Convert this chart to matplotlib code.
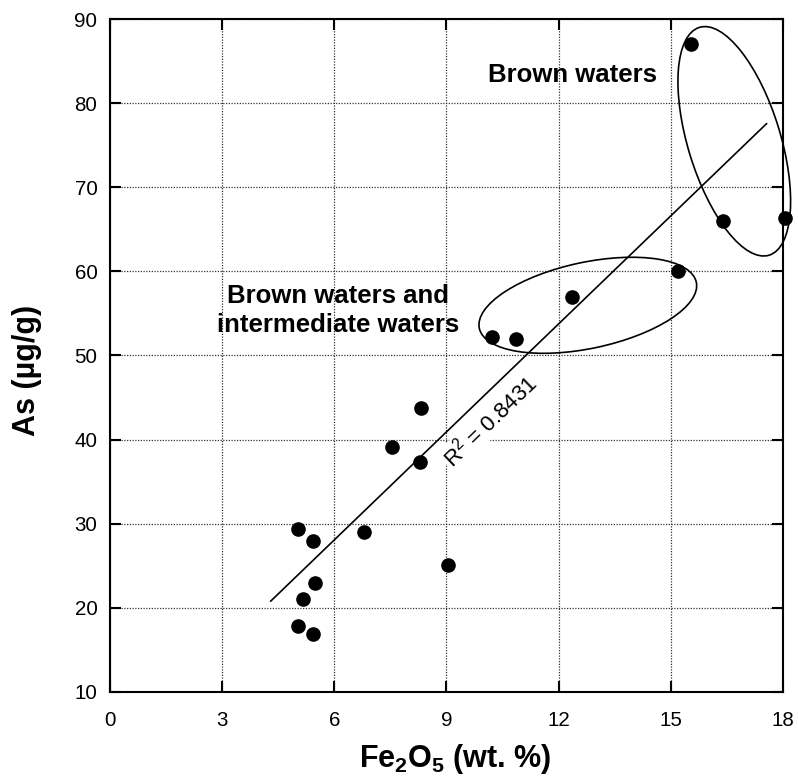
import numpy as np
import matplotlib.pyplot as plt
from matplotlib.patches import Ellipse

plt.rcParams['font.family'] = ['Liberation Sans', 'DejaVu Sans']
plt.rcParams['mathtext.fontset'] = 'custom'
plt.rcParams['mathtext.rm'] = 'Liberation Sans'
plt.rcParams['mathtext.bf'] = 'Liberation Sans:bold'
plt.rcParams['mathtext.default'] = 'regular'

# Fe2O5 (wt. %) and As (ug/g)
fe2o5 = [5.03, 5.44, 5.48, 5.17, 5.02, 5.44, 6.80, 7.53, 8.33, 8.29, 9.05,
         10.22, 10.87, 12.36, 15.2, 15.55, 16.40, 18.05]
arsen = [29.4, 27.9, 23.0, 21.0, 17.9, 16.9, 29.0, 39.1, 43.7, 37.3, 25.1,
         52.2, 52.0, 56.9, 60.0, 87.0, 66.0, 66.4]

# linear trend as drawn
fit_slope = 4.28
fit_intercept = 2.4
fit_range = [4.3, 17.56]
r2_text = "R$^2$ = 0.8431"

xticks = [0, 3, 6, 9, 12, 15, 18]
yticks = [10, 20, 30, 40, 50, 60, 70, 80, 90]

fig = plt.figure(figsize=(7.98, 7.79), dpi=100)
ax = fig.add_axes([0.1378, 0.1117, 0.8434, 0.8639])

ax.plot(fe2o5, arsen, 'o', color='black', markersize=9.5, clip_on=False, zorder=5)

xf = np.array(fit_range)
ax.plot(xf, fit_slope * xf + fit_intercept, color='black', linewidth=1.2, zorder=4)

ax.text(10.16, 42.2, r2_text, rotation=44, rotation_mode='anchor', ha='center', va='center',
        fontsize=16, zorder=3, bbox=dict(facecolor='white', edgecolor='none', pad=1))

# grouping ellipses
ax.add_patch(Ellipse((0.9276, 0.8183), width=0.354, height=0.1376, angle=-73,
                     transform=ax.transAxes, fill=False, edgecolor='black', linewidth=1.2,
                     clip_on=False, zorder=4))
ax.add_patch(Ellipse((0.710, 0.5746), width=0.3296, height=0.128, angle=12,
                     transform=ax.transAxes, fill=False, edgecolor='black', linewidth=1.2,
                     clip_on=False, zorder=4))

ax.text(12.38, 82.5, "Brown waters", fontsize=18.5, fontweight='bold', ha='center', va='baseline')
ax.text(6.1, 52.8, "Brown waters and\nintermediate waters", fontsize=18.5, fontweight='bold',
        ha='center', va='baseline', multialignment='center', linespacing=1.25)

ax.set_xlim(0, 18)
ax.set_ylim(10, 90)
ax.set_xticks(xticks)
ax.set_yticks(yticks)
ax.tick_params(direction='in', length=8, width=1.5, top=True, right=True, labelsize=14.8)
ax.tick_params(axis='x', pad=13.5)
ax.tick_params(axis='y', pad=9)
ax.grid(True, color='#333333', linestyle=(0, (1, 1.2)), linewidth=0.9)
for s in ax.spines.values():
    s.set_linewidth(1.5)

ax.text(0.5126, -0.1114, r"Fe$_\mathbf{2}$O$_\mathbf{5}$ (wt. %)", transform=ax.transAxes,
        fontsize=22, fontweight='bold', ha='center', va='baseline')
ax.text(-0.1226, 0.478, "As (µg/g)", transform=ax.transAxes, rotation=90,
        fontsize=22, fontweight='bold', ha='center', va='center')

plt.savefig("out.png", dpi=100)
